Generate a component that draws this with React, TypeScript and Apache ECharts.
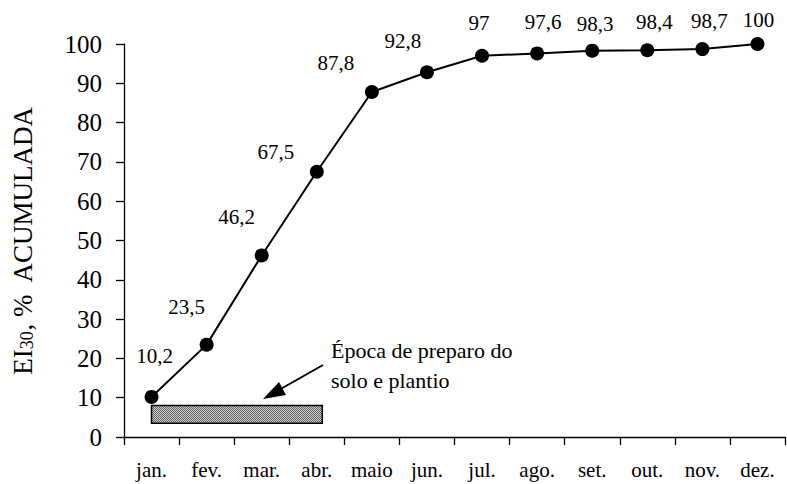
import React, { useEffect, useRef } from "react";
import * as echarts from "echarts";

const months = ["jan.", "fev.", "mar.", "abr.", "maio", "jun.", "jul.", "ago.", "set.", "out.", "nov.", "dez."];
const eiValues = [10.2, 23.5, 46.2, 67.5, 87.8, 92.8, 97, 97.6, 98.3, 98.4, 98.7, 100];
const valueLabels = ["10,2", "23,5", "46,2", "67,5", "87,8", "92,8", "97", "97,6", "98,3", "98,4", "98,7", "100"];
const labelOffsets = [[3, -41], [-20, -38], [-25, -38], [-41, -20], [-36, -29], [-24, -31], [-3, -33], [6, -31], [3, -27], [7, -28], [7, -28], [1, -24]];
const yTicks = [0, 10, 20, 30, 40, 50, 60, 70, 80, 90, 100];
// period of soil preparation and planting: from jan. to a bit past abr., between these y values
const periodStart = 0;
const periodEnd = 3.1;
const periodLow = 3.5;
const periodHigh = 8;

const FONT = "Liberation Serif";

function makeHatch(): any {
  const c = document.createElement("canvas");
  c.width = 2;
  c.height = 2;
  const ctx = c.getContext("2d");
  if (!ctx) return "#9a9a9a";
  ctx.fillStyle = "#cfcfcf";
  ctx.fillRect(0, 0, 2, 2);
  ctx.fillStyle = "#606060";
  ctx.fillRect(0, 0, 1, 1);
  ctx.fillRect(1, 1, 1, 1);
  return { image: c, repeat: "repeat" };
}

export default function App() {
  const ref = useRef<HTMLDivElement>(null);
  useEffect(() => {
    if (!ref.current) return;
    const chart = echarts.init(ref.current, null, { renderer: "svg" });
    const hatch = makeHatch();
    const option: any = {
      animation: false,
      backgroundColor: "#fff",
      textStyle: { fontFamily: FONT },
      grid: { left: 124, right: 2, top: 44, bottom: 47, containLabel: false, outerBoundsMode: "none" },
      xAxis: {
        type: "category",
        data: months,
        boundaryGap: true,
        axisLine: { show: true, lineStyle: { color: "#000", width: 1.3 } },
        axisTick: { show: true, length: 8, inside: false, interval: 0, lineStyle: { color: "#000", width: 1.3 } },
        axisLabel: { interval: 0, color: "#000", fontFamily: FONT, fontSize: 21, margin: 22 },
        splitLine: { show: false },
      },
      yAxis: {
        type: "value",
        min: yTicks[0],
        max: yTicks[yTicks.length - 1],
        interval: 10,
        axisLine: { show: true, lineStyle: { color: "#000", width: 1.3 } },
        axisTick: { show: true, length: 8, inside: false, lineStyle: { color: "#000", width: 1.3 } },
        axisLabel: { color: "#000", fontFamily: FONT, fontSize: 25, margin: 22 },
        splitLine: { show: false },
        name: "{a|EI}{b|30}{a|, %  ACUMULADA}",
        nameLocation: "middle",
        nameRotate: 90,
        nameGap: 88,
        nameTextStyle: {
          rich: {
            a: { fontFamily: FONT, fontSize: 27, color: "#000", verticalAlign: "bottom" },
            b: { fontFamily: FONT, fontSize: 18, color: "#000", verticalAlign: "bottom" },
          },
        },
      },
      series: [
        {
          type: "custom",
          silent: true,
          z: 1,
          data: [[periodStart, periodEnd, periodLow, periodHigh]],
          renderItem: (params: any, api: any) => {
            const p1 = api.coord([api.value(0), api.value(3)]);
            const bandW = api.size([1, 0])[0];
            const p2 = api.coord([Math.floor(api.value(1)), api.value(2)]);
            const x2 = p2[0] + (api.value(1) - Math.floor(api.value(1))) * bandW;
            return {
              type: "rect",
              shape: { x: p1[0], y: p1[1], width: x2 - p1[0], height: p2[1] - p1[1] },
              style: { fill: hatch, stroke: "#000", lineWidth: 1.5 },
            };
          },
        },
        {
          type: "line",
          z: 3,
          data: eiValues.map((v, i) => ({
            value: v,
            label: {
              show: true,
              position: "inside",
              offset: labelOffsets[i],
              formatter: valueLabels[i],
              align: "center",
              verticalAlign: "middle",
              color: "#000",
              fontFamily: FONT,
              fontSize: 21,
            },
          })),
          symbol: "circle",
          symbolSize: 14,
          itemStyle: { color: "#000" },
          lineStyle: { color: "#000", width: 2 },
        },
      ],
      graphic: [
        {
          type: "line",
          shape: { x1: 323, y1: 365, x2: 278, y2: 390.5 },
          style: { stroke: "#000", lineWidth: 2 },
        },
        {
          type: "polygon",
          shape: { points: [[263, 399], [286, 395], [279, 382]] },
          style: { fill: "#000" },
        },
        {
          type: "text",
          x: 331,
          y: 335,
          style: {
            text: "Época de preparo do\nsolo e plantio",
            fontFamily: FONT,
            fontSize: 22,
            lineHeight: 30,
            fill: "#000",
            align: "left",
            verticalAlign: "top",
          },
        },
      ],
    };
    chart.setOption(option);
    return () => chart.dispose();
  }, []);
  return <div ref={ref} style={{ position: "absolute", left: 0, top: 0, width: 787, height: 484 }} />;
}
